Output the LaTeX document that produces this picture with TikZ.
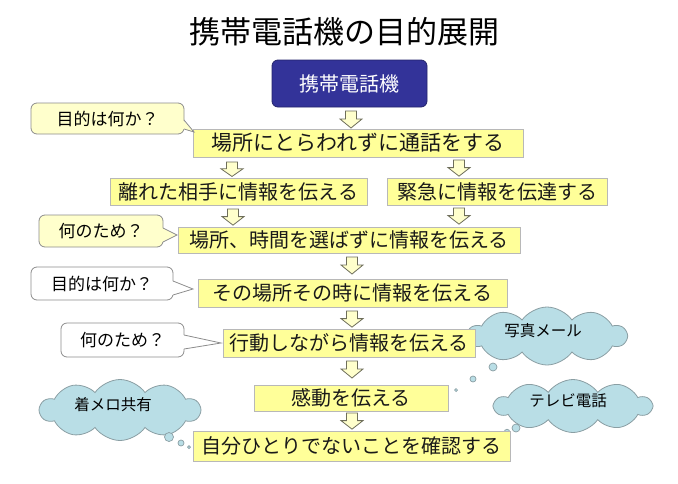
\documentclass[tikz,border=0pt]{standalone}
\usepackage{fontspec}
\setmainfont{Noto Sans CJK JP}
\usetikzlibrary{shapes.symbols}
\definecolor{boxfill}{HTML}{FFFF99}
\definecolor{callfill}{HTML}{FFFFCC}
\definecolor{navyfill}{HTML}{333399}
\definecolor{cloudfill}{HTML}{B9DEE6}
\definecolor{boxedge}{HTML}{B8B8B8}
\definecolor{calledge}{HTML}{8C8C8C}
\definecolor{cloudedge}{HTML}{8A9EA3}
\definecolor{arredge}{HTML}{6E6E5A}
\begin{document}
\begin{tikzpicture}[x=1pt,y=-1pt,
  ybox/.style={draw=boxedge, fill=boxfill, line width=0.9pt, inner sep=0pt,
    font=\fontsize{20}{24}\selectfont, text=black!90},
  navybox/.style={draw=navyfill!70!black, fill=navyfill, rounded corners=6pt, line width=0.8pt,
    inner sep=0pt, text=white, font=\fontsize{20}{24}\selectfont},
  callY/.style={draw=calledge, fill=callfill, rounded corners=6pt, line width=0.8pt,
    inner sep=0pt, font=\fontsize{17}{20}\selectfont},
  callW/.style={callY, fill=white},
  cloudsty/.style={cloud, cloud puffs=10, cloud puff arc=110, cloud ignores aspect,
    draw=cloudedge, fill=cloudfill,
    line width=0.8pt, inner sep=0pt},
  cloudtext/.style={inner sep=0pt, font=\fontsize{15.5}{18}\selectfont},
  bubble/.style={circle, draw=cloudedge, fill=cloudfill, line width=0.7pt, inner sep=0pt},
  darr/.pic={\draw[draw=arredge, fill=callfill, line width=0.8pt, line join=miter]
     (-5.5,0) -- (5.5,0) -- (5.5,8) -- (11,8) -- (0,17) -- (-11,8) -- (-5.5,8) -- cycle;}
]
\path[use as bounding box] (0,0) rectangle (678,483);

% title
\node[inner sep=0pt, font=\fontsize{31}{36}\selectfont] (title) at (344,32) {携帯電話機の目的展開};

% clouds (behind boxes)
\node[cloudsty, minimum width=159pt, minimum height=58pt] (k1) at (547,336) {};
\node[cloudtext] (k1t) at (543,331) {写真メール};
\node[cloudsty, minimum width=157pt, minimum height=53pt] (k2) at (573,406) {};
\node[cloudtext] (k2t) at (568,401) {テレビ電話};
\node[cloudsty, minimum width=160pt, minimum height=61pt] (k3) at (120,410) {};
\node[cloudtext] (k3t) at (113,405) {着メロ共有};
\node[bubble, minimum size=8pt] (k1a) at (493,367) {};
\node[bubble, minimum size=6pt] (k1b) at (473,379) {};
\node[bubble, minimum size=3pt] (k1c) at (456,390) {};
\node[bubble, minimum size=8pt] (k2a) at (516,428) {};
\node[bubble, minimum size=5.5pt] (k2b) at (507,432) {};
\node[bubble, minimum size=3pt] (k2c) at (501,435) {};
\node[bubble, minimum size=9pt] (k3a) at (169,437) {};
\node[bubble, minimum size=6pt] (k3b) at (181,443) {};
\node[bubble, minimum size=3pt] (k3c) at (189,447) {};

% boxes
\node[navybox, minimum width=155pt, minimum height=47pt] (b0) at (349.5,83.5) {携帯電話機};
\node[ybox, minimum width=330pt, minimum height=28pt, font=\fontsize{21}{25}\selectfont] (b1) at (358,143) {場所にとらわれずに通話をする};
\node[ybox, minimum width=257pt, minimum height=27pt] (b2l) at (238.5,191.5) {離れた相手に情報を伝える};
\node[ybox, minimum width=220pt, minimum height=27pt] (b2r) at (497,191.5) {緊急に情報を伝達する};
\node[ybox, minimum width=342pt, minimum height=26pt] (b3) at (349,240) {場所、時間を選ばずに情報を伝える};
\node[ybox, minimum width=309pt, minimum height=28pt] (b4) at (352.5,293) {その場所その時に情報を伝える};
\node[ybox, minimum width=252pt, minimum height=28pt] (b5) at (349,343) {行動しながら情報を伝える};
\node[ybox, minimum width=194pt, minimum height=26pt] (b6) at (351,398) {感動を伝える};
\node[ybox, minimum width=317pt, minimum height=30pt] (b7) at (351.5,446) {自分ひとりでないことを確認する};

% block arrows
\pic (a1) at (351,111) {darr};
\pic[yscale=0.85] (a2) at (232,162) {darr};
\pic[yscale=0.95] (a3) at (459,160) {darr};
\pic[yscale=0.95] (a4) at (233,209) {darr};
\pic[yscale=0.95] (a5) at (459,208) {darr};
\pic (a6) at (352,257) {darr};
\pic[yscale=0.95] (a7) at (352,311) {darr};
\pic (a8) at (352,361) {darr};
\pic[yscale=0.95] (a9) at (352,413) {darr};

% callouts
\node[callY, minimum width=153pt, minimum height=31pt] (c1) at (107.5,118.5) {目的は何か？};
\fill[callfill] (183,120) -- (194,132) -- (183,129) -- cycle;
\draw[calledge, line width=0.8pt, line join=miter] (184,120) -- (194,132) -- (184,129);

\node[callY, minimum width=124pt, minimum height=32pt] (c2) at (101,231) {何のため？};
\fill[callfill] (162,228) -- (177,235) -- (162,242) -- cycle;
\draw[calledge, line width=0.8pt, line join=miter] (163,228) -- (177,235) -- (163,242);

\node[callW, minimum width=142pt, minimum height=33pt] (c3) at (102,283.5) {目的は何か？};
\fill[white] (172,281) -- (193,289) -- (172,295) -- cycle;
\draw[calledge, line width=0.8pt, line join=miter] (173,281) -- (193,289) -- (173,295);

\node[callW, minimum width=123pt, minimum height=34pt] (c4) at (122.5,340) {何のため？};
\fill[white] (183,335) -- (221,343) -- (183,349) -- cycle;
\draw[calledge, line width=0.8pt, line join=miter] (184,335) -- (221,343) -- (184,349);
\end{tikzpicture}
\end{document}
